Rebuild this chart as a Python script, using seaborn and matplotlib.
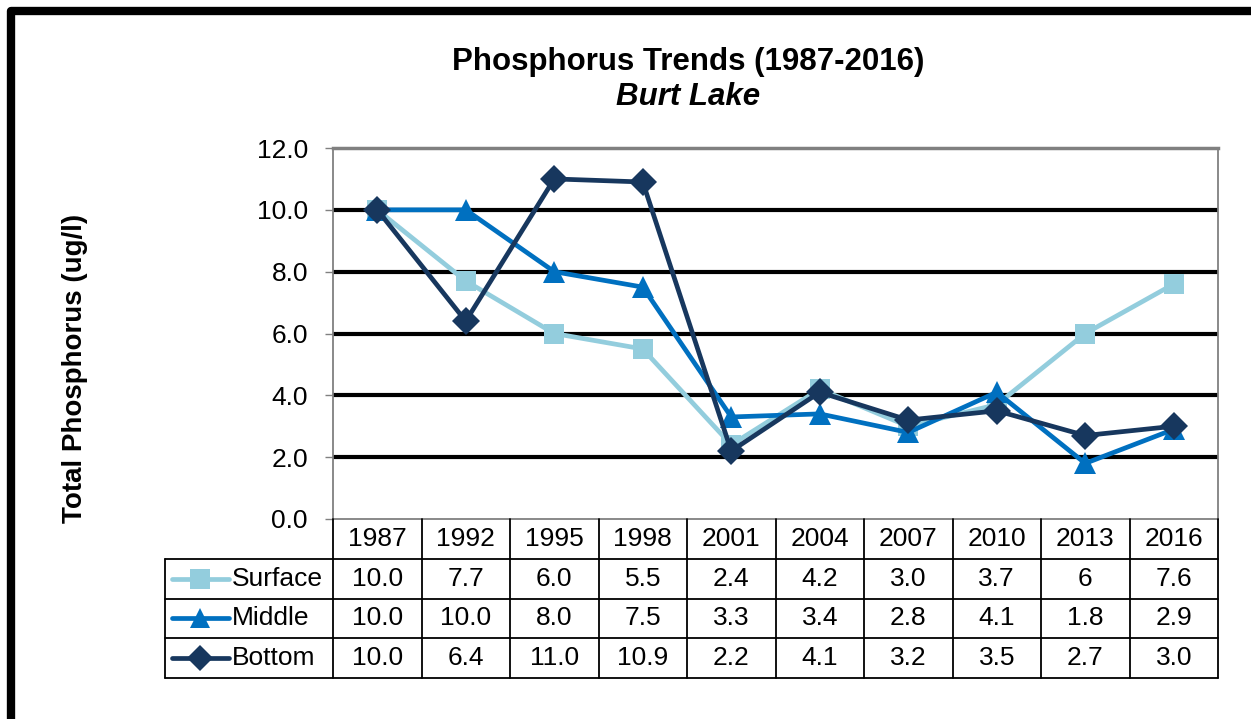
import numpy as np
import pandas as pd
import seaborn as sns
import matplotlib.pyplot as plt
from matplotlib.lines import Line2D

years = ["1987", "1992", "1995", "1998", "2001", "2004", "2007", "2010", "2013", "2016"]
surface = [10.0, 7.7, 6.0, 5.5, 2.4, 4.2, 3.0, 3.7, 6, 7.6]
middle = [10.0, 10.0, 8.0, 7.5, 3.3, 3.4, 2.8, 4.1, 1.8, 2.9]
bottom = [10.0, 6.4, 11.0, 10.9, 2.2, 4.1, 3.2, 3.5, 2.7, 3.0]
surface_txt = ["10.0", "7.7", "6.0", "5.5", "2.4", "4.2", "3.0", "3.7", "6", "7.6"]
middle_txt = ["10.0", "10.0", "8.0", "7.5", "3.3", "3.4", "2.8", "4.1", "1.8", "2.9"]
bottom_txt = ["10.0", "6.4", "11.0", "10.9", "2.2", "4.1", "3.2", "3.5", "2.7", "3.0"]
series = ["Surface", "Middle", "Bottom"]

colors = {"Surface": "#93CDDD", "Middle": "#0070C0", "Bottom": "#17375E"}
markers = {"Surface": "s", "Middle": "^", "Bottom": "D"}
msizes = {"Surface": 15, "Middle": 16, "Bottom": 14}

rows = []
for name, vals in zip(series, [surface, middle, bottom]):
    for i, v in enumerate(vals):
        rows.append({"pos": i, "value": v, "Layer": name})
df = pd.DataFrame(rows)

sns.set_style("white")
plt.rcParams["font.family"] = ["Liberation Sans", "DejaVu Sans"]
plt.rcParams["text.color"] = "black"
plt.rcParams["ytick.color"] = "black"
plt.rcParams["axes.labelcolor"] = "black"

W, H = 1251, 719
fig = plt.figure(figsize=(W / 100, H / 100), dpi=100)


def fx(px):
    return px / W


def fy(py):
    return 1 - py / H


left, right, top, bot = 333, 1218, 148, 519
ax = fig.add_axes([fx(left), fy(bot), fx(right - left), (bot - top) / H])

for name in series:
    d = df[df["Layer"] == name]
    sns.lineplot(data=d, x="pos", y="value", ax=ax, color=colors[name],
                 marker=markers[name], markersize=msizes[name], markeredgewidth=0,
                 linewidth=3.4, legend=False, zorder=3)

ax.set_xlim(-0.5, 9.5)
ax.set_ylim(0, 12)
ax.set_yticks(np.arange(0, 12.1, 2))
ax.set_yticklabels([f"{v:.1f}" for v in np.arange(0, 12.1, 2)], fontsize=19)
ax.set_xticks([])
ax.set_xlabel("")
ax.set_ylabel("")
for v in [2, 4, 6, 8, 10]:
    ax.axhline(v, color="black", lw=3, zorder=1)
for s in ["left", "right", "top", "bottom"]:
    ax.spines[s].set_color("#808080")
    ax.spines[s].set_linewidth(1.3)
ax.spines["top"].set_linewidth(2.5)
ax.tick_params(axis="y", direction="out", length=6, width=1, color="#808080",
               labelcolor="black", pad=12, left=True)

# title and y label
fig.text(fx(688), fy(62), "Phosphorus Trends (1987-2016)", ha="center", va="center",
         fontsize=22.5, fontweight="bold")
fig.text(fx(688), fy(97), "Burt Lake", ha="center", va="center",
         fontsize=22.5, fontweight="bold", style="italic")
fig.text(fx(75), fy(368), "Total Phosphorus (ug/l)", ha="center", va="center",
         rotation=90, fontsize=20, fontweight="bold")

# data table
tab = fig.add_axes([fx(left), fy(678), fx(right - left), (678 - bot) / H])
tab.set_xlim(-0.5, 9.5)
tab.set_ylim(4, 0)
tab.axis("off")
lab_left = -0.5 - (left - 165) / ((right - left) / 10)
grid_kw = dict(color="black", lw=1.3, clip_on=False)
# header row
for i, y in enumerate(years):
    tab.text(i, 0.5, y, ha="center", va="center", fontsize=19)
for i in range(11):
    tab.plot([i - 0.5, i - 0.5], [0, 4], **grid_kw)
tab.plot([lab_left, lab_left], [1, 4], **grid_kw)
for r in range(1, 5):
    tab.plot([lab_left, 9.5], [r, r], **grid_kw)
for r, (name, txts) in enumerate(zip(series, [surface_txt, middle_txt, bottom_txt]), start=1):
    yc = r + 0.5
    for i, t in enumerate(txts):
        tab.text(i, yc, t, ha="center", va="center", fontsize=19)
    x0 = lab_left + 0.08
    x1 = lab_left + 0.72
    tab.add_line(Line2D([x0, x1], [yc, yc], color=colors[name], lw=3.4, clip_on=False,
                        solid_capstyle="round"))
    tab.add_line(Line2D([(x0 + x1) / 2], [yc], color=colors[name], marker=markers[name],
                        markersize=msizes[name] - 1, markeredgewidth=0, clip_on=False))
    tab.text(x1 + 0.04, yc, name, ha="left", va="center", fontsize=19)

# outer frame (cropped)
fig.add_artist(Line2D([fx(11), fx(11), fx(1300)], [fy(760), fy(11), fy(11)],
                      color="black", lw=6, solid_joinstyle="round"))

fig.savefig("out.png", dpi=100)
